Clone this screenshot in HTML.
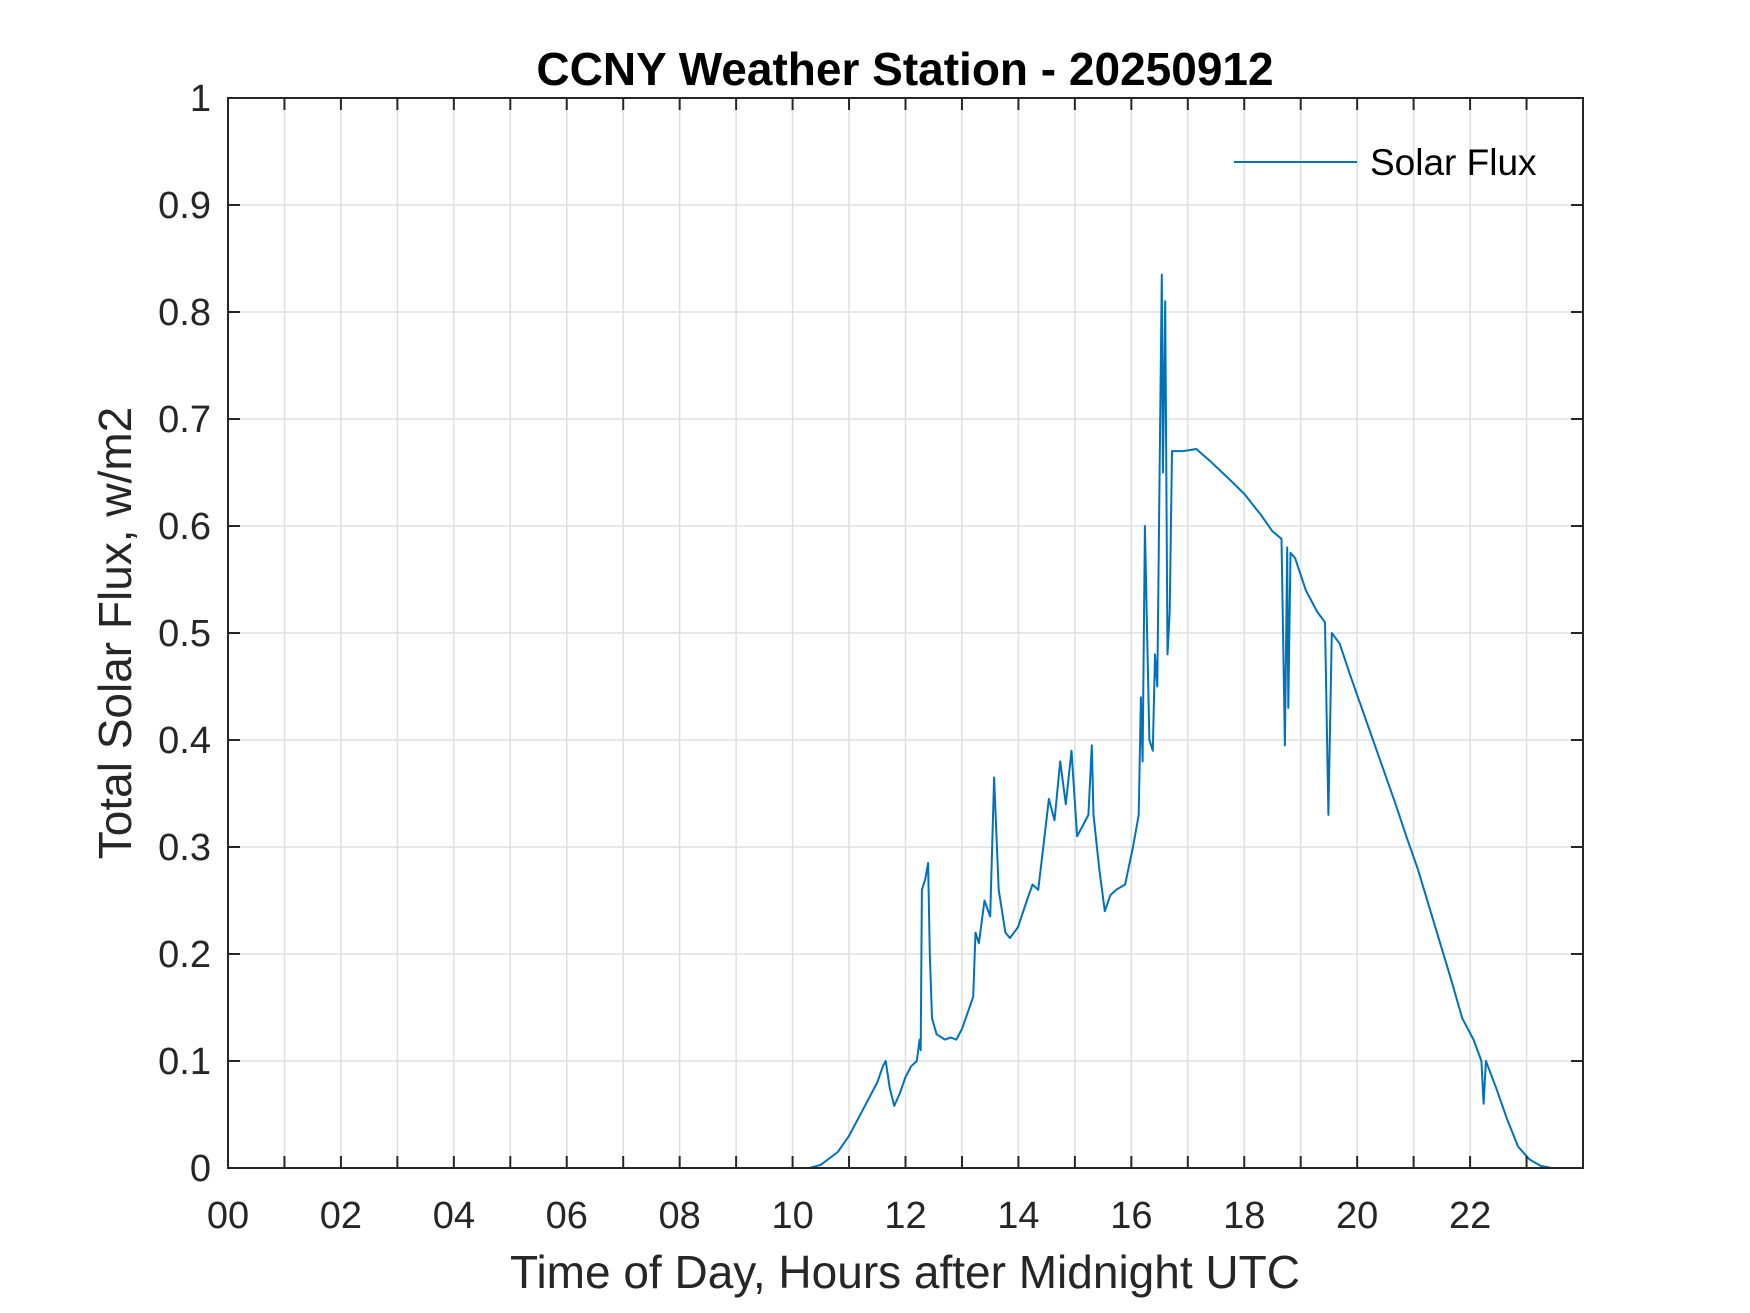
<!DOCTYPE html>
<html><head><meta charset="utf-8"><style>
html,body{margin:0;padding:0;background:#fff;}
svg{display:block;font-family:"Liberation Sans",Arial,sans-serif;}
</style></head><body>
<svg id="chart" width="1750" height="1313" viewBox="0 0 1750 1313" xmlns="http://www.w3.org/2000/svg">
<rect width="1750" height="1313" fill="#fff"/>
<g id="grid"></g>
<g id="series"></g>
<rect x="228" y="98" width="1355" height="1070" fill="none" stroke="#262626" stroke-width="2"/>
<g id="ticks"></g>
<text x="905" y="85" text-anchor="middle" font-size="46" font-weight="bold" fill="#000">CCNY Weather Station - 20250912</text>
<text x="905" y="1288" text-anchor="middle" font-size="46" fill="#262626">Time of Day, Hours after Midnight UTC</text>
<text transform="translate(131,633) rotate(-90)" text-anchor="middle" font-size="46" fill="#262626">Total Solar Flux, w/m2</text>
<g>
<line x1="1234" y1="162" x2="1357" y2="162" stroke="#0072BD" stroke-width="2"/>
<text x="1370" y="175" font-size="37" fill="#000">Solar Flux</text>
</g>
</svg>
<script>
const hours = [0,10.3,10.5,10.8,11.0,11.3,11.5,11.6,11.65,11.72,11.8,11.9,12.0,12.1,12.2,12.25,12.27,12.29,12.35,12.4,12.43,12.47,12.55,12.7,12.8,12.9,13.0,13.1,13.2,13.24,13.3,13.4,13.5,13.57,13.65,13.77,13.85,13.99,14.15,14.25,14.35,14.44,14.54,14.64,14.74,14.84,14.94,15.04,15.14,15.24,15.3,15.33,15.43,15.53,15.63,15.73,15.89,16.03,16.13,16.17,16.2,16.24,16.28,16.32,16.38,16.42,16.46,16.5,16.54,16.56,16.6,16.64,16.68,16.72,16.92,17.15,17.41,17.71,18.0,18.3,18.5,18.66,18.72,18.76,18.78,18.82,18.9,19.09,19.29,19.43,19.49,19.55,19.69,19.88,20.08,20.28,20.48,20.68,20.87,21.07,21.27,21.47,21.67,21.86,22.06,22.2,22.24,22.28,22.46,22.66,22.85,23.05,23.25,23.45,24];
const flux = [0,0,0.003,0.015,0.03,0.06,0.08,0.095,0.1,0.075,0.058,0.07,0.085,0.095,0.1,0.12,0.11,0.26,0.27,0.285,0.2,0.14,0.125,0.12,0.122,0.12,0.13,0.145,0.16,0.22,0.21,0.25,0.235,0.365,0.26,0.22,0.215,0.225,0.25,0.265,0.26,0.3,0.345,0.325,0.38,0.34,0.39,0.31,0.32,0.33,0.395,0.33,0.28,0.24,0.255,0.26,0.265,0.3,0.33,0.44,0.38,0.6,0.5,0.4,0.39,0.48,0.45,0.65,0.835,0.65,0.81,0.48,0.52,0.67,0.67,0.672,0.66,0.645,0.63,0.61,0.595,0.588,0.395,0.58,0.43,0.575,0.57,0.54,0.52,0.51,0.33,0.5,0.49,0.46,0.43,0.4,0.37,0.34,0.31,0.28,0.245,0.21,0.175,0.14,0.12,0.1,0.06,0.1,0.075,0.045,0.02,0.008,0.002,0,0];
const xTickLabels = ["00","02","04","06","08","10","12","14","16","18","20","22"];
const yTickLabels = ["0","0.1","0.2","0.3","0.4","0.5","0.6","0.7","0.8","0.9","1"];
const L=228,R=1583,T=98,B=1168;
const xs=h=>L+(h/24)*(R-L);
const ys=v=>B-v*(B-T);
const NS="http://www.w3.org/2000/svg";
const grid=document.getElementById('grid'),ticks=document.getElementById('ticks'),series=document.getElementById('series');
function mk(tag,attrs,parent){const e=document.createElementNS(NS,tag);for(const k in attrs)e.setAttribute(k,attrs[k]);parent.appendChild(e);return e;}
for(let h=1;h<24;h++){
  const x=xs(h);
  const g=mk('line',{x1:x,y1:T,x2:x,y2:B,stroke:'#dfdfdf','stroke-width':1.5},grid);
  
  
  const t1=mk('line',{x1:x,y1:B,x2:x,y2:B-12,stroke:'#262626','stroke-width':2},ticks);
  
  
  const t2=mk('line',{x1:x,y1:T,x2:x,y2:T+12,stroke:'#262626','stroke-width':2},ticks);
  
  
}
xTickLabels.forEach((lab,i)=>{
  const t=mk('text',{x:xs(i*2),y:1228,'text-anchor':'middle','font-size':38,fill:'#262626'},ticks);
  t.textContent=lab;
  
  
});
yTickLabels.forEach((lab,i)=>{
  const v=i/10,y=ys(v);
  if(i>0&&i<10){
    const g=mk('line',{x1:L,y1:y,x2:R,y2:y,stroke:'#dfdfdf','stroke-width':1.5},grid);
    
    
  }
  const t1=mk('line',{x1:L,y1:y,x2:L+12,y2:y,stroke:'#262626','stroke-width':2},ticks);
  
  
  const t2=mk('line',{x1:R,y1:y,x2:R-12,y2:y,stroke:'#262626','stroke-width':2},ticks);
  
  
  const t=mk('text',{x:L-17,y:y+13,'text-anchor':'end','font-size':38,fill:'#262626'},ticks);
  t.textContent=lab;
  
  
});
const d=hours.map((h,i)=>(i?'L':'M')+xs(h).toFixed(1)+','+ys(flux[i]).toFixed(1)).join(' ');
const p=mk('path',{d:d,fill:'none',stroke:'#0072BD','stroke-width':2,'stroke-linejoin':'round'},series);


</script>
</body></html>
